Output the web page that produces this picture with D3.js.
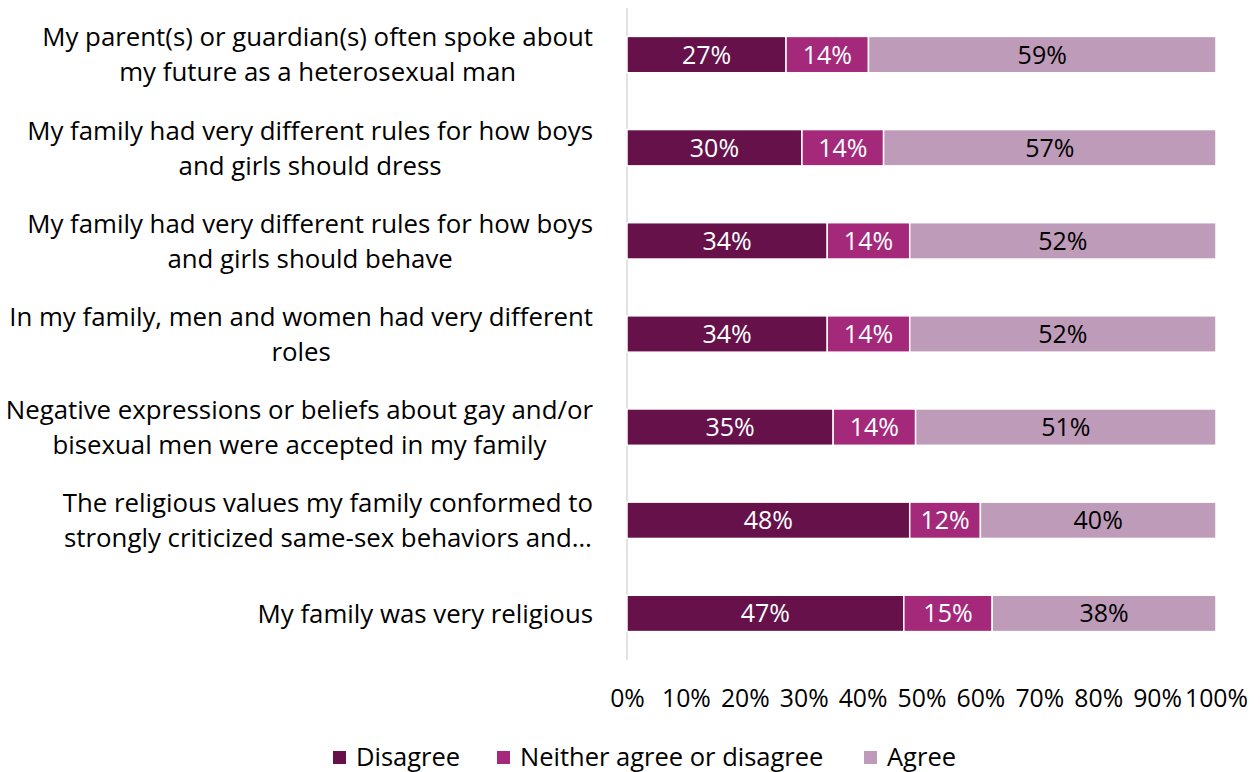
<!DOCTYPE html>
<html><head><meta charset="utf-8">
<script src="https://cdn.jsdelivr.net/npm/d3@7"></script>
<style>body{margin:0;background:#fff}svg{display:block}text{font-family:"Open Sans",sans-serif}</style>
</head><body><svg id="c" width="1260" height="772"></svg>
<script>
const categories = [
  ["My parent(s) or guardian(s) often spoke about","my future as a heterosexual man"],
  ["My family had very different rules for how boys","and girls should dress"],
  ["My family had very different rules for how boys","and girls should behave"],
  ["In my family, men and women had very different","roles"],
  ["Negative expressions or beliefs about gay and/or","bisexual men were accepted in my family"],
  ["The religious values my family conformed to","strongly criticized same-sex behaviors and…"],
  ["My family was very religious"]
];
const seriesNames = ["Disagree","Neither agree or disagree","Agree"];
const disagree = [27,30,34,34,35,48,47];
const neither  = [14,14,14,14,14,12,15];
const agree    = [59,57,52,52,51,40,38];
const tickValues = [0,10,20,30,40,50,60,70,80,90,100];
const colors = ["#66114a","#a4297a","#bf9bba"];
const labelColors = ["#fff","#fff","#000"];

const svg = d3.select("#c");
const x = d3.scaleLinear().domain([0,100]).range([627,1216]);
const y = d3.scaleBand().domain(d3.range(categories.length)).range([8,660]).paddingInner(0.61).paddingOuter(0.305);

const rows = categories.map((c,i)=>{
  const vals=[disagree[i],neither[i],agree[i]];
  const tot=d3.sum(vals);
  return {i, vals, norm: vals.map(v=>v/tot*100)};
});

svg.append("line").attr("x1",x(0)).attr("x2",x(0)).attr("y1",8).attr("y2",660).attr("stroke","#d9d9d9").attr("stroke-width",1.5);

rows.forEach(r=>{
  let acc=0;
  r.vals.forEach((v,k)=>{
    const x0=acc, x1=acc+r.norm[k]; acc=x1;
    svg.append("rect").attr("x",x(x0)).attr("y",y(r.i)).attr("width",x(x1)-x(x0)).attr("height",y.bandwidth())
      .attr("fill",colors[k]).attr("stroke","#fff").attr("stroke-width",1.5);
    svg.append("text").attr("x",(x(x0)+x(x1))/2).attr("y",y(r.i)+y.bandwidth()/2).attr("dy","0.36em")
      .attr("text-anchor","middle").attr("font-size",25).attr("fill",labelColors[k]).text(v+"%");
  });
});

categories.forEach((lines,i)=>{
  const cy=y(i)+y.bandwidth()/2;
  const t=svg.append("text").attr("text-anchor","middle").attr("font-size",25.8).attr("fill","#000");
  const lh=35, start=cy-(lines.length-1)*lh/2;
  const spans=lines.map((l,j)=>t.append("tspan").attr("y",start+j*lh).attr("dy","0.36em").text(l));
  const maxW=d3.max(spans,s=>s.node().getComputedTextLength());
  spans.forEach(s=>s.attr("x",593-maxW/2));
});

const ax=svg.append("g").attr("transform","translate(0,698)")
  .call(d3.axisBottom(x).tickValues(tickValues).tickFormat(d=>d+"%").tickSize(0).tickPadding(0));
ax.select(".domain").remove();
ax.selectAll("text").attr("font-size",24.8).attr("fill","#000").attr("font-family","'Open Sans',sans-serif").attr("dy","0.36em");

const legX=[333,497,864];
seriesNames.forEach((n,k)=>{
  svg.append("rect").attr("x",legX[k]).attr("y",751).attr("width",13).attr("height",13).attr("fill",colors[k]);
  svg.append("text").attr("x",legX[k]+23).attr("y",757).attr("dy","0.36em").attr("font-size",25.5).attr("fill","#000").text(n);
});
</script></body></html>
